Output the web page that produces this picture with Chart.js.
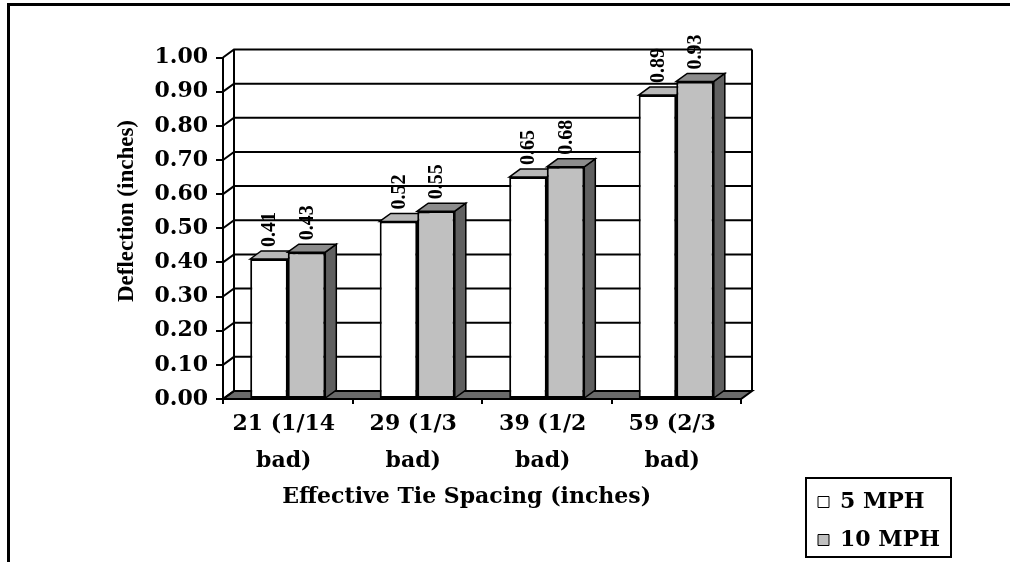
<!DOCTYPE html>
<html>
<head>
<meta charset="utf-8">
<script src="https://cdn.jsdelivr.net/npm/chart.js@4.4.1/dist/chart.umd.min.js"></script>
<style>
  html, body { margin: 0; padding: 0; background: #ffffff; }
  #wrap { width: 1010px; height: 562px; position: relative; }
</style>
</head>
<body>
<div id="wrap"><canvas id="chart"></canvas></div>
<script>
// Tie spacing categories (two-line axis labels)
const categories = [
  ['21 (1/14', 'bad)'],
  ['29 (1/3', 'bad)'],
  ['39 (1/2', 'bad)'],
  ['59 (2/3', 'bad)']
];
const seriesNames = ['5 MPH', '10 MPH'];
// Measured deflection, inches
const deflection5mph = [0.41, 0.52, 0.65, 0.89];
const deflection10mph = [0.43, 0.55, 0.68, 0.93];
const yTickLabels = ['0.00', '0.10', '0.20', '0.30', '0.40', '0.50', '0.60', '0.70', '0.80', '0.90', '1.00'];

// Pseudo-3D depth of walls and bars, in pixels
const DEPTH = { dx: 11, dy: 8 };
const FACES = [
  { top: '#b8b8b8', side: '#a0a0a0' },
  { top: '#8c8c8c', side: '#606060' }
];

const serifH = '"DejaVu Serif", serif';
const serifV = '"Liberation Serif", "Times New Roman", serif';

// Legend geometry: the legend column starts at x = 802; its width follows its text
const LEGEND_FONT = { family: serifH, size: 22, weight: 'bold' };
const LEGEND_BOX = 11, LEGEND_PAD = 16, LEGEND_LEFT = 802;
const measureCtx = document.createElement('canvas').getContext('2d');
measureCtx.font = 'bold 22px ' + serifH;
const legendTextW = Math.max(...seriesNames.map(s => measureCtx.measureText(s).width));
const legendW = LEGEND_PAD + LEGEND_BOX + LEGEND_FONT.size / 2 + legendTextW + 10;
const padRight = 1010 - LEGEND_LEFT - legendW;

const chart3d = {
  id: 'chart3d',
  beforeDraw(chart) {
    // outer frame (top and left rules)
    const c = chart.ctx;
    c.save();
    c.fillStyle = '#000';
    c.fillRect(7, 3, 1003, 3);
    c.fillRect(7, 3, 3, 559);
    c.restore();
  },
  beforeDatasetsDraw(chart) {
    const { ctx, chartArea: a, scales: { y } } = chart;
    const { dx, dy } = DEPTH;
    ctx.save();
    ctx.strokeStyle = '#000';
    ctx.lineWidth = 2;
    // floor
    ctx.beginPath();
    ctx.moveTo(a.left, a.bottom);
    ctx.lineTo(a.right, a.bottom);
    ctx.lineTo(a.right + dx, a.bottom - dy);
    ctx.lineTo(a.left + dx, a.bottom - dy);
    ctx.closePath();
    ctx.fillStyle = '#6a6a6a';
    ctx.fill();
    ctx.stroke();
    // side-wall diagonals and back-wall gridlines
    y.ticks.forEach(t => {
      const py = y.getPixelForValue(t.value);
      ctx.beginPath();
      ctx.moveTo(a.left, py);
      ctx.lineTo(a.left + dx, py - dy);
      if (t.value > 0) ctx.lineTo(a.right + dx, py - dy);
      ctx.stroke();
    });
    // back-wall edges
    ctx.beginPath();
    ctx.moveTo(a.left + dx, a.top - dy);
    ctx.lineTo(a.left + dx, a.bottom - dy);
    ctx.moveTo(a.right + dx, a.top - dy);
    ctx.lineTo(a.right + dx, a.bottom - dy);
    ctx.stroke();
    // top and side faces of each column
    ctx.lineWidth = 1.5;
    chart.data.datasets.forEach((ds, i) => {
      chart.getDatasetMeta(i).data.forEach(bar => {
        const l = bar.x - bar.width / 2, r = bar.x + bar.width / 2;
        const top = bar.y, base = bar.base;
        ctx.fillStyle = FACES[i].side;
        ctx.beginPath();
        ctx.moveTo(r, top);
        ctx.lineTo(r + dx, top - dy);
        ctx.lineTo(r + dx, base - dy);
        ctx.lineTo(r, base);
        ctx.closePath();
        ctx.fill();
        ctx.stroke();
        ctx.fillStyle = FACES[i].top;
        ctx.beginPath();
        ctx.moveTo(l, top);
        ctx.lineTo(l + dx, top - dy);
        ctx.lineTo(r + dx, top - dy);
        ctx.lineTo(r, top);
        ctx.closePath();
        ctx.fill();
        ctx.stroke();
      });
    });
    ctx.restore();
  },
  afterDatasetsDraw(chart) {
    // vertical value labels above the columns
    const ctx = chart.ctx;
    ctx.save();
    ctx.fillStyle = '#000';
    ctx.font = 'bold 20px ' + serifV;
    ctx.textAlign = 'left';
    ctx.textBaseline = 'middle';
    chart.data.datasets.forEach((ds, i) => {
      chart.getDatasetMeta(i).data.forEach((bar, j) => {
        ctx.save();
        ctx.translate(bar.x + 1, bar.y - 12);
        ctx.rotate(-Math.PI / 2);
        ctx.fillText(ds.data[j].toFixed(2), 0, 0);
        ctx.restore();
      });
    });
    ctx.restore();
  },
  afterDraw(chart) {
    // legend frame
    const L = chart.legend;
    const ctx = chart.ctx;
    ctx.save();
    ctx.strokeStyle = '#000';
    ctx.lineWidth = 2;
    ctx.strokeRect(806, L.bottom - 89, 145, 79);
    ctx.restore();
  }
};

new Chart(document.getElementById('chart'), {
  type: 'bar',
  data: {
    labels: categories,
    datasets: [
      { label: seriesNames[0], data: deflection5mph, backgroundColor: '#ffffff', borderColor: '#000000', borderWidth: 2, borderSkipped: false },
      { label: seriesNames[1], data: deflection10mph, backgroundColor: '#c0c0c0', borderColor: '#000000', borderWidth: 2, borderSkipped: false }
    ]
  },
  options: {
    responsive: true,
    maintainAspectRatio: false,
    animation: false,
    devicePixelRatio: 1,
    layout: { padding: { left: 10, top: 57.5, right: padRight, bottom: -5 } },
    datasets: { bar: { categoryPercentage: 0.58, barPercentage: 1 } },
    plugins: {
      tooltip: { enabled: false },
      legend: {
        position: 'right',
        align: 'end',
        maxWidth: legendW + 20,
        labels: {
          color: '#000',
          font: LEGEND_FONT,
          boxWidth: LEGEND_BOX,
          boxHeight: LEGEND_BOX,
          padding: LEGEND_PAD,
          generateLabels(chart) {
            return Chart.defaults.plugins.legend.labels.generateLabels(chart)
              .map(item => Object.assign(item, { lineWidth: 1 }));
          }
        }
      }
    },
    scales: {
      x: {
        grid: { display: true, drawOnChartArea: false, offset: true, tickLength: 5, color: '#000', lineWidth: 2 },
        border: { display: true, color: '#000', width: 2 },
        ticks: {
          color: '#000', padding: 2, labelOffset: -4, maxRotation: 0, minRotation: 0, autoSkip: false,
          font: { family: serifH, size: 22, weight: 'bold', lineHeight: 1.68 }
        },
        title: {
          display: true,
          text: 'Effective Tie Spacing (inches)    ',
          color: '#000',
          font: { family: serifH, size: 22, weight: 'bold' },
          padding: { top: 0, bottom: 57 }
        },
        afterFit(s) { s.height = 168; }
      },
      y: {
        min: 0,
        max: 1,
        ticks: {
          stepSize: 0.1,
          color: '#000',
          padding: 8,
          font: { family: serifH, size: 22, weight: 'bold' },
          callback: (v, i) => yTickLabels[i]
        },
        grid: { display: true, drawOnChartArea: false, tickLength: 7, color: '#000', lineWidth: 2 },
        border: { display: true, color: '#000', width: 2 },
        title: {
          display: true,
          text: '      Deflection (inches)',
          color: '#000',
          font: { family: serifV, size: 23, weight: 'bold' },
          padding: { top: 103, bottom: 0 }
        },
        afterFit(s) { s.width = 213; }
      },
      y2: {
        position: 'right',
        display: true,
        grid: { display: false },
        border: { display: false },
        ticks: { display: false },
        afterFit(s) { s.width = 61; }
      }
    }
  },
  plugins: [chart3d]
});
</script>
</body>
</html>
